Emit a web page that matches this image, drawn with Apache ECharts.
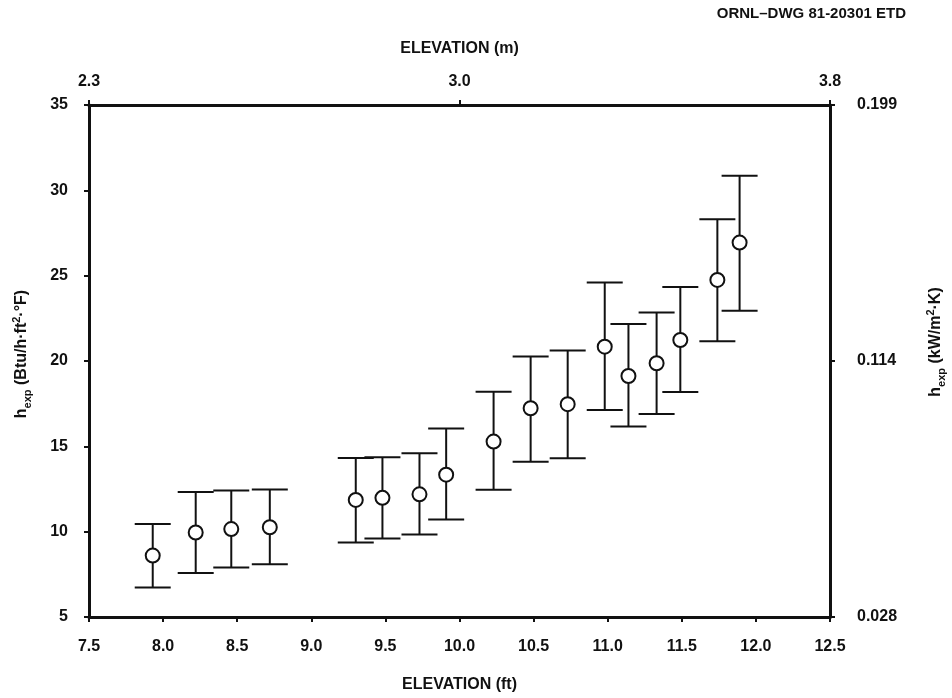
<!DOCTYPE html>
<html>
<head>
<meta charset="utf-8">
<script src="https://cdn.jsdelivr.net/npm/echarts@6/dist/echarts.min.js"></script>
<style>
  html, body { margin: 0; padding: 0; background: #fff; }
  #chart { width: 952px; height: 698px; }
</style>
</head>
<body>
<div id="chart"></div>
<script>
// elevation of each measurement (ft)
var elevFt = [7.93, 8.22, 8.46, 8.72, 9.30, 9.48, 9.73, 9.91, 10.23, 10.48, 10.73, 10.98, 11.14, 11.33, 11.49, 11.74, 11.89];
// measured heat transfer coefficient and its error band (Btu/h·ft²·°F)
var hMean  = [8.6, 9.95, 10.15, 10.26, 11.86, 11.98, 12.19, 13.34, 15.28, 17.23, 17.47, 20.84, 19.12, 19.87, 21.23, 24.75, 26.94];
var hUpper = [10.45, 12.32, 12.41, 12.47, 14.32, 14.36, 14.6, 16.04, 18.2, 20.26, 20.61, 24.6, 22.17, 22.84, 24.34, 28.3, 30.86];
var hLower = [6.73, 7.58, 7.9, 8.09, 9.37, 9.6, 9.83, 10.71, 12.45, 14.1, 14.3, 17.13, 16.16, 16.9, 18.19, 21.16, 22.95];

// secondary tick labels (top axis in m, right axis in kW/m²·K)
var topTickLabels = ['2.3', '3.0', '3.8'];
var rightTickLabels = ['0.028', '0.114', '0.199'];

var font = 'Liberation Sans, Arial, sans-serif';
var ink = '#111';

var errorData = elevFt.map(function (x, i) { return [x, hUpper[i], hLower[i]]; });
var pointData = elevFt.map(function (x, i) { return [x, hMean[i]]; });

function renderErrorBar(params, api) {
  var x = api.value(0);
  var top = api.coord([x, api.value(1)]);
  var bot = api.coord([x, api.value(2)]);
  var half = 18;
  var style = { stroke: ink, lineWidth: 2 };
  return {
    type: 'group',
    children: [
      { type: 'line', shape: { x1: top[0], y1: top[1], x2: bot[0], y2: bot[1] }, style: style },
      { type: 'line', shape: { x1: top[0] - half, y1: top[1], x2: top[0] + half, y2: top[1] }, style: style },
      { type: 'line', shape: { x1: bot[0] - half, y1: bot[1], x2: bot[0] + half, y2: bot[1] }, style: style }
    ]
  };
}

var labelStyle = { color: ink, fontFamily: font, fontWeight: 'bold', fontSize: 16 };
var nameStyle = { color: ink, fontFamily: font, fontWeight: 'bold', fontSize: 16 };
var nameRich = {
  n: { fontFamily: font, fontWeight: 'bold', fontSize: 16, fill: ink, lineHeight: 22, verticalAlign: 'middle' },
  sub: { fontFamily: font, fontWeight: 'bold', fontSize: 11, fill: ink, lineHeight: 11, verticalAlign: 'bottom' },
  sup: { fontFamily: font, fontWeight: 'bold', fontSize: 11, fill: ink, lineHeight: 11, verticalAlign: 'top' }
};

var chart = echarts.init(document.getElementById('chart'));
chart.setOption({
  backgroundColor: '#fff',
  animation: false,
  graphic: [{
    type: 'text', right: 46, top: 6,
    style: { text: 'ORNL\u2013DWG 81-20301 ETD', fill: ink, font: 'bold 15px ' + font }
  }, {
    type: 'text', x: 22, y: 354, rotation: Math.PI / 2,
    style: {
      text: '{n|h}{sub|exp}{n| (Btu/h\u00b7ft}{sup|2}{n|\u00b7\u00b0F)}',
      rich: nameRich, align: 'center', verticalAlign: 'middle'
    }
  }, {
    type: 'text', x: 936, y: 342, rotation: Math.PI / 2,
    style: {
      text: '{n|h}{sub|exp}{n| (kW/m}{sup|2}{n|\u00b7K)}',
      rich: nameRich, align: 'center', verticalAlign: 'middle'
    }
  }],
  grid: { left: 89, right: 122, top: 105, bottom: 81 },
  xAxis: [{
    type: 'value', position: 'bottom', min: 7.5, max: 12.5, interval: 0.5,
    name: 'ELEVATION (ft)', nameLocation: 'middle', nameGap: 60,
    nameTextStyle: nameStyle,
    axisLine: { lineStyle: { color: ink, width: 3 } },
    axisTick: { length: 5, lineStyle: { color: ink, width: 2 } },
    axisLabel: Object.assign({ margin: 22, formatter: function (v) { return v.toFixed(1); } }, labelStyle),
    splitLine: { show: false }
  }, {
    type: 'value', position: 'top', min: 7.5, max: 12.5, interval: 2.5,
    name: 'ELEVATION (m)', nameLocation: 'middle', nameGap: 48,
    nameTextStyle: nameStyle,
    axisLine: { lineStyle: { color: ink, width: 3 } },
    axisTick: { length: 5, lineStyle: { color: ink, width: 2 } },
    axisLabel: Object.assign({ margin: 15, formatter: function (v) {
      return topTickLabels[Math.round((v - 7.5) / 2.5)];
    } }, labelStyle),
    splitLine: { show: false }
  }],
  yAxis: [{
    type: 'value', position: 'left', min: 5, max: 35, interval: 5,
    axisLine: { lineStyle: { color: ink, width: 3 } },
    axisTick: { length: 5, lineStyle: { color: ink, width: 2 } },
    axisLabel: Object.assign({ margin: 21 }, labelStyle),
    splitLine: { show: false }
  }, {
    type: 'value', position: 'right', min: 5, max: 35, interval: 15,
    axisLine: { lineStyle: { color: ink, width: 3 } },
    axisTick: { length: 5, lineStyle: { color: ink, width: 2 } },
    axisLabel: Object.assign({ margin: 27, formatter: function (v) {
      return rightTickLabels[Math.round((v - 5) / 15)];
    } }, labelStyle),
    splitLine: { show: false }
  }],
  series: [{
    type: 'custom',
    xAxisIndex: 0, yAxisIndex: 0,
    renderItem: renderErrorBar,
    encode: { x: 0, y: [1, 2] },
    data: errorData,
    z: 2
  }, {
    type: 'scatter',
    xAxisIndex: 0, yAxisIndex: 0,
    symbol: 'circle', symbolSize: 14,
    itemStyle: { color: '#fff', borderColor: ink, borderWidth: 2, opacity: 1 },
    data: pointData,
    z: 3
  }]
});
</script>
</body>
</html>
